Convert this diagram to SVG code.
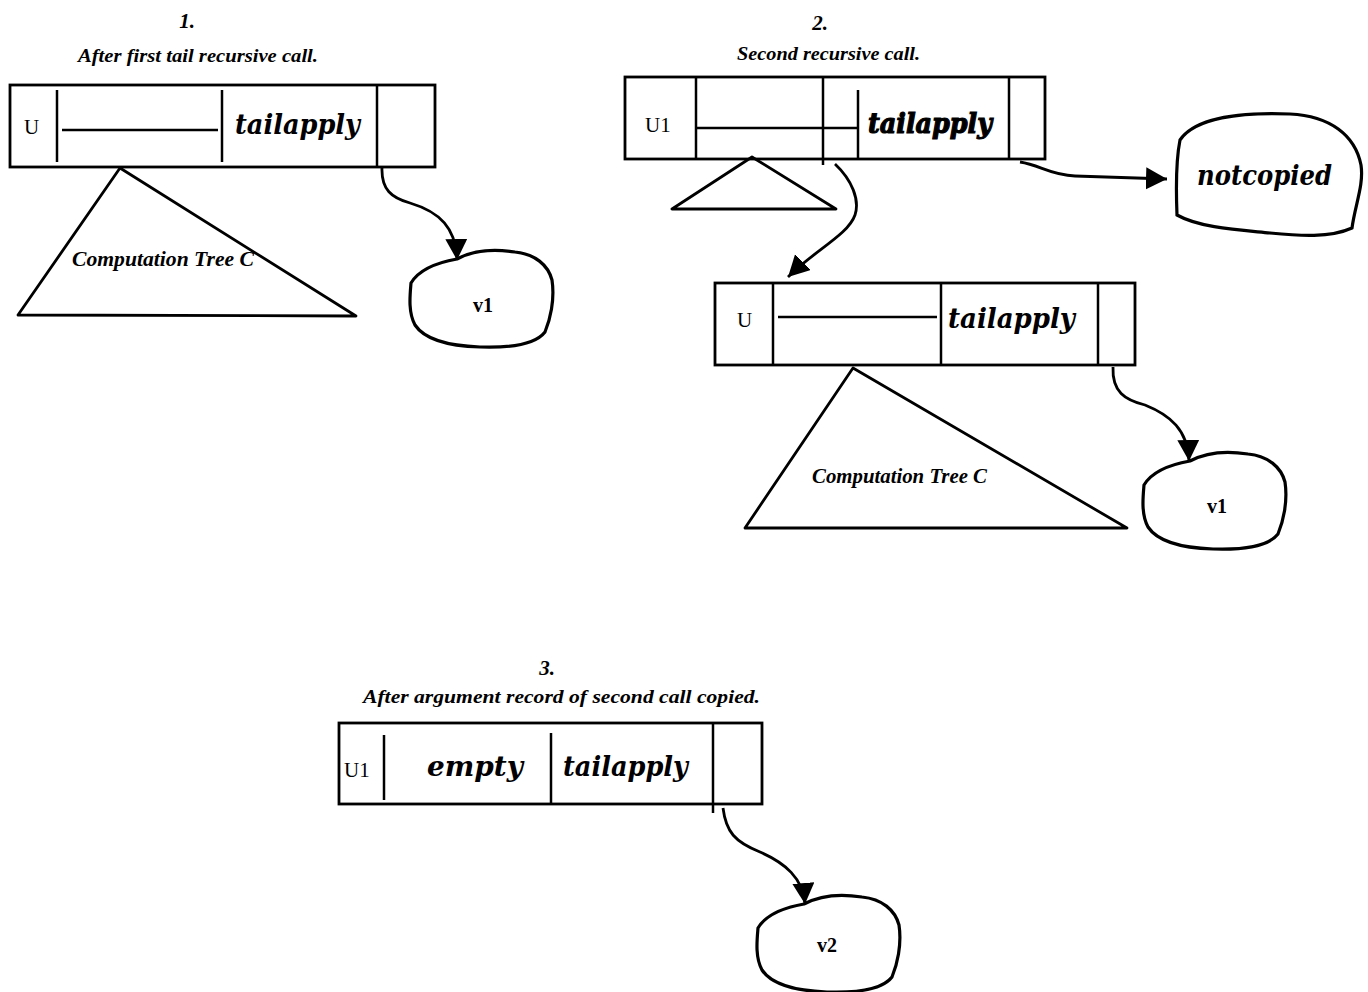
<svg xmlns="http://www.w3.org/2000/svg" width="1368" height="992" viewBox="0 0 1368 992">
<defs>
<style>
.frame{fill:none;stroke:#000;stroke-width:2.8}
.ln{fill:none;stroke:#000;stroke-width:2.5}
.tri{fill:none;stroke:#000;stroke-width:2.8;stroke-linejoin:round}
.blob{fill:none;stroke:#000;stroke-width:3.2}
.conn{fill:none;stroke:#000;stroke-width:2.8}
.num{font-family:"Liberation Serif",serif;font-style:italic;font-weight:bold;font-size:21px}
.sub{font-family:"Liberation Serif",serif;font-style:italic;font-weight:bold;font-size:19px}
.big{font-family:"DejaVu Serif","Liberation Serif",serif;font-style:italic;font-weight:bold;font-size:27px}
.lab{font-family:"Liberation Serif",serif;font-size:21px}
.tree{font-family:"Liberation Serif",serif;font-style:italic;font-weight:bold;font-size:21px}
.val{font-family:"Liberation Serif",serif;font-weight:bold;font-size:20px}
</style>
<marker id="ah" markerUnits="userSpaceOnUse" markerWidth="24" markerHeight="24" refX="21" refY="11" orient="auto">
<path d="M0,0 L21,11 L0,22 Z" fill="#000"/>
</marker>
<path id="blobShape" d="M 457 259 C 470 252, 490 248, 515 252 C 535 254, 548 265, 552 280 C 555 300, 550 320, 545 332 C 535 345, 510 348, 480 347 C 450 346, 425 340, 415 325 C 408 312, 410 295, 411 283 C 420 268, 440 262, 457 259 Z"/>
</defs>
<rect width="1368" height="992" fill="#fff"/>

<g id="panel1-title">
<text class="num" x="187" y="28" text-anchor="middle">1.</text>
<text class="sub" x="78" y="62" textLength="240" lengthAdjust="spacingAndGlyphs">After first tail recursive call.</text>
</g>

<g id="record1">
<rect class="frame" x="10" y="85" width="425" height="82"/>
<line class="ln" x1="57" y1="90" x2="57" y2="162"/>
<line class="ln" x1="222" y1="90" x2="222" y2="162"/>
<line class="ln" x1="377" y1="85" x2="377" y2="167"/>
<line class="ln" x1="62" y1="130" x2="218" y2="130"/>
<text class="lab" x="24" y="134">U</text>
<text class="big" x="235" y="134" textLength="125" lengthAdjust="spacingAndGlyphs">tailapply</text>
</g>

<g id="tree1">
<polygon class="tri" points="120,168 18,315 356,316"/>
<text class="tree" x="72" y="266" textLength="182" lengthAdjust="spacingAndGlyphs">Computation Tree C</text>
</g>

<g id="value1">
<use href="#blobShape" class="blob"/>
<text class="val" x="473" y="312">v1</text>
</g>

<g id="panel2-title">
<text class="num" x="820" y="30" text-anchor="middle">2.</text>
<text class="sub" x="737" y="60" textLength="183" lengthAdjust="spacingAndGlyphs">Second recursive call.</text>
</g>

<g id="record2">
<rect class="frame" x="625" y="77" width="420" height="82"/>
<line class="ln" x1="696" y1="77" x2="696" y2="159"/>
<line class="ln" x1="823" y1="77" x2="823" y2="165"/>
<line class="ln" x1="858" y1="90" x2="858" y2="159"/>
<line class="ln" x1="1009" y1="77" x2="1009" y2="159"/>
<line class="ln" x1="696" y1="128" x2="858" y2="128"/>
<text class="lab" x="645" y="132">U1</text>
<text class="big" x="868" y="133" textLength="124" lengthAdjust="spacingAndGlyphs" stroke="#000" stroke-width="1.2">tailapply</text>
</g>

<g id="tree2-small">
<polygon class="tri" points="752,157 672,209 836,209"/>
</g>

<g id="notcopied">
<path class="blob" d="M 1180 140 C 1195 118, 1240 112, 1290 114 C 1330 116, 1355 135, 1361 165 C 1364 185, 1355 205, 1352 228 C 1330 238, 1300 236, 1270 233 C 1240 230, 1200 228, 1177 215 C 1176 190, 1176 160, 1180 140 Z"/>
<text class="big" x="1197" y="185" textLength="135" lengthAdjust="spacingAndGlyphs">notcopied</text>
</g>

<g id="record2b">
<rect class="frame" x="715" y="283" width="420" height="82"/>
<line class="ln" x1="773" y1="283" x2="773" y2="365"/>
<line class="ln" x1="941" y1="283" x2="941" y2="365"/>
<line class="ln" x1="1098" y1="283" x2="1098" y2="365"/>
<line class="ln" x1="778" y1="317" x2="937" y2="317"/>
<text class="lab" x="737" y="327">U</text>
<text class="big" x="948" y="328" textLength="127" lengthAdjust="spacingAndGlyphs">tailapply</text>
</g>

<g id="tree2">
<polygon class="tri" points="853,368 745,528 1127,528"/>
<text class="tree" x="812" y="483" textLength="175" lengthAdjust="spacingAndGlyphs">Computation Tree C</text>
</g>

<g id="value1b">
<use href="#blobShape" class="blob" transform="translate(733 202)"/>
<text class="val" x="1207" y="513">v1</text>
</g>

<g id="panel3-title">
<text class="num" x="547" y="675" text-anchor="middle">3.</text>
<text class="sub" x="363" y="703" textLength="397" lengthAdjust="spacingAndGlyphs">After argument record of second call copied.</text>
</g>

<g id="record3">
<rect class="frame" x="339" y="723" width="423" height="81"/>
<line class="ln" x1="384" y1="735" x2="384" y2="800"/>
<line class="ln" x1="551" y1="733" x2="551" y2="804"/>
<line class="ln" x1="713" y1="723" x2="713" y2="813"/>
<text class="lab" x="344" y="777">U1</text>
<text class="big" x="427" y="776" textLength="96" lengthAdjust="spacingAndGlyphs">empty</text>
<text class="big" x="563" y="776" textLength="125" lengthAdjust="spacingAndGlyphs">tailapply</text>
</g>

<g id="value2">
<use href="#blobShape" class="blob" transform="translate(347 645)"/>
<text class="val" x="817" y="952">v2</text>
</g>

<g id="connectors">
<path class="conn" marker-end="url(#ah)" d="M 382 167 C 381 190, 392 198, 410 203 C 440 212, 456 228, 457 260"/>
<path class="conn" marker-end="url(#ah)" d="M 835 164 C 852 180, 860 200, 855 215 C 848 235, 815 250, 788 277"/>
<path class="conn" marker-end="url(#ah)" d="M 1020 162 C 1040 165, 1050 175, 1075 176 L 1167 179"/>
<path class="conn" marker-end="url(#ah)" d="M 1113 367 C 1112 392, 1125 400, 1145 405 C 1170 415, 1188 430, 1189 461"/>
<path class="conn" marker-end="url(#ah)" d="M 723 808 C 726 832, 735 842, 760 852 C 785 863, 803 878, 805 904"/>
</g>
</svg>
